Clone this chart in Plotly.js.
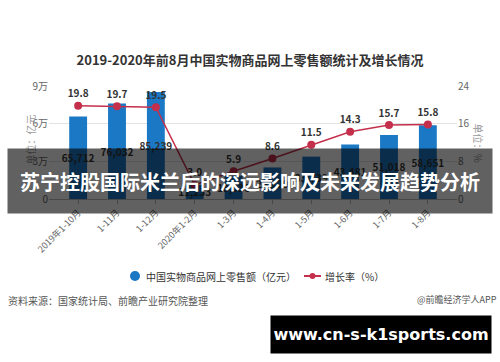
<!DOCTYPE html>
<html><head><meta charset="utf-8">
<script src="https://cdn.plot.ly/plotly-3.0.1.min.js"></script>
<style>html,body{margin:0;padding:0;background:#fff}#c{width:500px;height:362px}</style>
</head><body><div id="c"></div>
<script>
var categories = ["2019年1-10月","1-11月","1-12月","2020年1-2月","1-3月","1-4月","1-5月","1-6月","1-7月","1-8月"];
var salesValues = [65712, 76032, 85239, 11233, 18536, 25129, 33739, 43481, 51018, 58651];
var growthValues = [19.8, 19.7, 19.5, 3.0, 5.9, 8.6, 11.5, 14.3, 15.7, 15.8];
var leftTickVals = [0, 30000, 60000, 90000];
var leftTickText = ["0", "3万", "6万", "9万"];
var rightTickVals = [0, 8, 16, 24];
var seriesNames = ["中国实物商品网上零售额（亿元）", "增长率（%）"];

var F = '"Noto Sans CJK SC", "Noto Sans", sans-serif';
var blue = '#1a78c4', red = '#c4304c';

// plot area pixels: x 49..457, y 86..199
function px(x){ return (x-49)/408; }
function py(y){ return (199-y)/113; }

var traces = [
  {type:'bar', x:categories, y:salesValues, name:seriesNames[0],
   marker:{color:blue}, text:salesValues.map(function(v){return v.toLocaleString('en-US');}),
   textposition:'inside', insidetextanchor:'middle', textangle:0,
   textfont:{family:F, size:10, color:'#333', weight:'bold'}, constraintext:'none',
   showlegend:false, hoverinfo:'skip', cliponaxis:false},
  {type:'scatter', mode:'lines+markers+text', x:categories, y:growthValues, yaxis:'y2',
   name:seriesNames[1], line:{color:red, width:1.5}, marker:{color:red, size:8},
   text:growthValues.map(function(v){return v.toFixed(1);}), textposition:'top center',
   textfont:{family:F, size:10, color:'#333', weight:'bold'}, showlegend:false, cliponaxis:false}
];

var ly = py(276);
var layout = {
  width:500, height:362,
  margin:{l:49, r:43, t:86, b:163},
  paper_bgcolor:'#fff', plot_bgcolor:'#fff',
  font:{family:F, color:'#555'},
  bargap:0.54, showlegend:false,
  title:{text:'<b>2019-2020年前8月中国实物商品网上零售额统计及增长情况</b>', x:0.5, xanchor:'center',
         y:1-60/362, yanchor:'middle', yref:'container', font:{family:F, size:13, color:'#333'}},
  xaxis:{type:'category', range:[-0.75, 9.75], tickangle:-45, tickfont:{family:F, size:9, color:'#666'},
         showline:true, linecolor:'#bbb', linewidth:1, ticks:'outside', ticklen:4, tickcolor:'#bbb',
         showgrid:false, fixedrange:true},
  yaxis:{range:[0, 90000], tickvals:leftTickVals, ticktext:leftTickText,
         tickfont:{family:F, size:10, color:'#666'}, gridcolor:'#e3e3e3', zeroline:false, showline:false},
  yaxis2:{range:[0, 24], tickvals:rightTickVals, overlaying:'y', side:'right',
          tickfont:{family:F, size:10, color:'#666'}, showgrid:false, zeroline:false, showline:false},
  shapes:[
    {type:'circle', xref:'paper', yref:'paper', x0:px(130), x1:px(140), y0:py(281), y1:py(271),
     fillcolor:blue, line:{width:0}},
    {type:'line', xref:'paper', yref:'paper', x0:px(304), x1:px(321), y0:ly, y1:ly,
     line:{color:red, width:2}},
    {type:'circle', xref:'paper', yref:'paper', x0:px(309.5), x1:px(315.5), y0:py(279), y1:py(273),
     fillcolor:red, line:{width:0}}
  ],
  annotations:[
    {text:seriesNames[0], xref:'paper', yref:'paper', x:px(144), y:ly, xanchor:'left', yanchor:'middle',
     showarrow:false, font:{family:F, size:10, color:'#333'}},
    {text:seriesNames[1], xref:'paper', yref:'paper', x:px(323), y:ly, xanchor:'left', yanchor:'middle',
     showarrow:false, font:{family:F, size:10, color:'#333'}},
    {text:'单位：亿元', xref:'paper', yref:'paper', x:px(20), y:py(140), textangle:-90, showarrow:false,
     font:{family:F, size:10, color:'#999'}},
    {text:'单位：%', xref:'paper', yref:'paper', x:px(488), y:py(143), textangle:90, showarrow:false,
     font:{family:F, size:10, color:'#999'}},
    {text:'资料来源：国家统计局、前瞻产业研究院整理', xref:'paper', yref:'paper', x:px(6), y:py(300),
     xanchor:'left', yanchor:'middle', showarrow:false, font:{family:F, size:10, color:'#555'}},
    {text:'@前瞻经济学人APP', xref:'paper', yref:'paper', x:px(499), y:py(299),
     xanchor:'right', yanchor:'middle', showarrow:false, font:{family:F, size:9, color:'#555'}},
    {text:'<b>苏宁控股国际米兰后的深远影响及未来发展趋势分析</b>', xref:'paper', yref:'paper',
     x:px(250), y:py(181), xanchor:'center', yanchor:'middle', width:484, height:64, borderpad:0,
     bgcolor:'rgba(0,0,0,0.62)', showarrow:false, font:{family:F, size:20, color:'#fff'}},
    {text:'<b>www.cn-s-k1sports.com</b>', xref:'paper', yref:'paper',
     x:px(381), y:py(334.5), xanchor:'center', yanchor:'middle', width:220, height:37, borderpad:0,
     bgcolor:'#000', showarrow:false, font:{family:'"DejaVu Sans", sans-serif', size:16, color:'#fff'}}
  ]
};

Plotly.newPlot('c', traces, layout, {displayModeBar:false, staticPlot:true});
</script>
</body></html>
